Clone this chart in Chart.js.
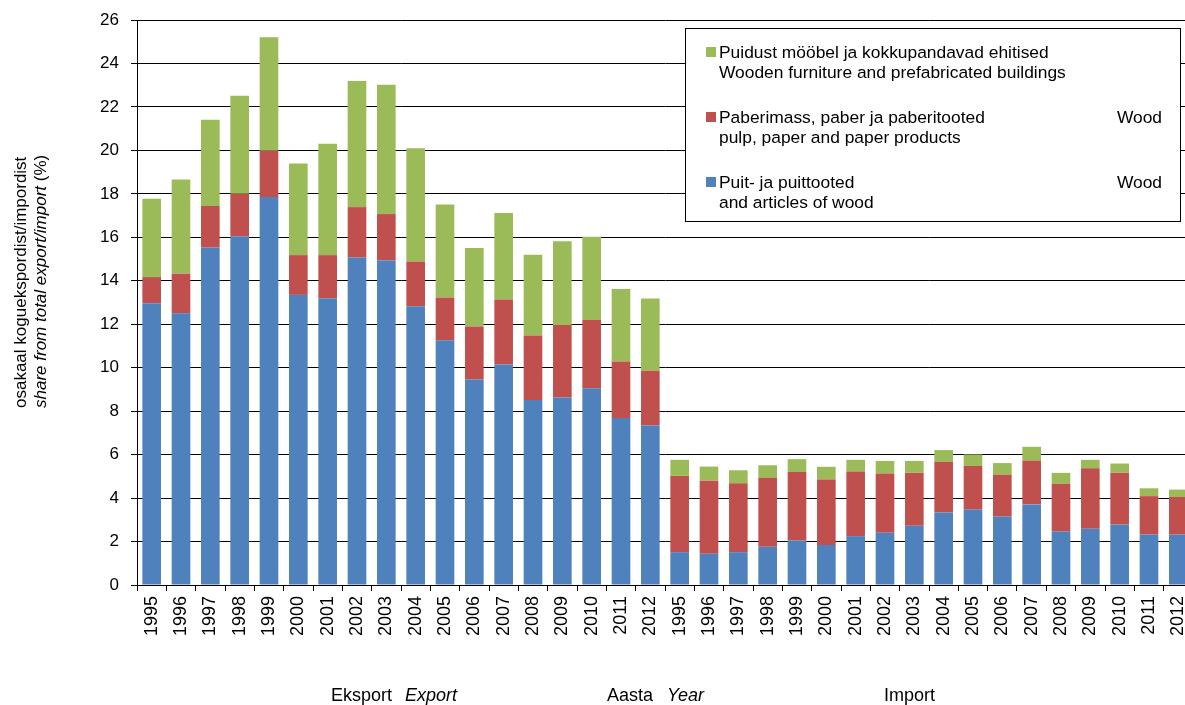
<!DOCTYPE html>
<html>
<head>
<meta charset="utf-8">
<script src="https://cdn.jsdelivr.net/npm/chart.js@4.4.0/dist/chart.umd.min.js"></script>
<style>
  html, body { margin: 0; padding: 0; background: #fff; overflow: hidden; }
  #wrap { position: relative; width: 1193px; height: 705px; }
</style>
</head>
<body>
<div id="wrap"><canvas id="c" width="1193" height="705"></canvas></div>
<script>
const categories = [
  '1995','1996','1997','1998','1999','2000','2001','2002','2003','2004','2005','2006','2007','2008','2009','2010','2011','2012',
  '1995','1996','1997','1998','1999','2000','2001','2002','2003','2004','2005','2006','2007','2008','2009','2010','2011','2012'
];
// Puit- ja puittooted / Wood and articles of wood
const woodArticles = [
  12.97, 12.50, 15.53, 16.05, 17.85, 13.35, 13.20, 15.07, 14.95, 12.83, 11.26, 9.46, 10.15, 8.51, 8.63, 9.05, 7.68, 7.34,
  1.51, 1.44, 1.51, 1.76, 2.05, 1.84, 2.25, 2.41, 2.73, 3.34, 3.47, 3.15, 3.71, 2.46, 2.59, 2.78, 2.32, 2.32
];
// Paberimass, paber ja paberitooted / Wood pulp, paper and paper products
const pulpPaper = [
  1.20, 1.83, 1.91, 1.95, 2.13, 1.83, 1.98, 2.32, 2.12, 2.05, 1.97, 2.43, 2.99, 2.97, 3.34, 3.15, 2.60, 2.52,
  3.51, 3.36, 3.17, 3.17, 3.15, 3.01, 2.97, 2.72, 2.44, 2.33, 2.01, 1.93, 2.02, 2.20, 2.78, 2.39, 1.77, 1.73
];
// Puidust mööbel ja kokkupandavad ehitised / Wooden furniture and prefabricated buildings
const furniture = [
  3.61, 4.33, 3.97, 4.51, 5.23, 4.22, 5.12, 5.80, 5.95, 5.22, 4.28, 3.62, 3.98, 3.72, 3.85, 3.83, 3.34, 3.32,
  0.74, 0.65, 0.60, 0.58, 0.59, 0.59, 0.54, 0.58, 0.54, 0.54, 0.53, 0.53, 0.63, 0.50, 0.39, 0.42, 0.36, 0.34
];
const yTicks = { min: 0, max: 26, step: 2 };

const BLUE = '#4F81BD', RED = '#C0504D', GREEN = '#9BBB59';
const FONT = '"Liberation Sans", Arial, sans-serif';

const textPlugin = {
  id: 'texts',
  afterDraw(chart) {
    const ctx = chart.ctx;
    ctx.save();
    ctx.fillStyle = '#000';
    ctx.textBaseline = 'alphabetic';
    // Y axis title line 1
    ctx.save();
    ctx.translate(26, 408);
    ctx.rotate(-Math.PI / 2);
    ctx.font = '17px ' + FONT;
    ctx.textAlign = 'left';
    ctx.fillText('osakaal koguekspordist/impordist', 0, 0);
    ctx.restore();
    // Y axis title line 2 (mixed italic)
    ctx.save();
    ctx.translate(46, 408);
    ctx.rotate(-Math.PI / 2);
    ctx.textAlign = 'left';
    const p1 = 'share from total export/import ';
    const p2 = '(%)';
    ctx.font = 'italic 17px ' + FONT;
    const w1 = ctx.measureText(p1).width;
    ctx.fillText(p1, 0, 0);
    ctx.font = '17px ' + FONT;
    ctx.fillText(p2, w1, 0);
    ctx.restore();

    // Bottom texts
    ctx.textAlign = 'left';
    ctx.font = '18px ' + FONT;
    ctx.fillText('Eksport', 331, 701);
    ctx.fillText('Aasta', 607, 701);
    ctx.fillText('Import', 884, 701);
    ctx.font = 'italic 18px ' + FONT;
    ctx.fillText('Export', 405, 701);
    ctx.fillText('Year', 667, 701);

    // Legend box
    ctx.fillStyle = '#fff';
    ctx.fillRect(685, 28, 496, 194);
    ctx.strokeStyle = '#000';
    ctx.lineWidth = 1;
    ctx.strokeRect(685.5, 28.5, 495, 193);
    const items = [
      { c: GREEN, l1: 'Puidust mööbel ja kokkupandavad ehitised', l2: 'Wooden furniture and prefabricated buildings', y: 58, w: false },
      { c: RED, l1: 'Paberimass, paber ja paberitooted', l2: 'pulp, paper and paper products', y: 123, w: true },
      { c: BLUE, l1: 'Puit- ja puittooted', l2: 'and articles of wood', y: 188, w: true }
    ];
    ctx.font = '17.4px ' + FONT;
    for (const it of items) {
      ctx.fillStyle = it.c;
      ctx.fillRect(706, it.y - 11, 10, 10);
      ctx.fillStyle = '#000';
      ctx.textAlign = 'left';
      ctx.fillText(it.l1, 719, it.y);
      ctx.fillText(it.l2, 719, it.y + 20);
      if (it.w) {
        ctx.textAlign = 'right';
        ctx.fillText('Wood', 1162, it.y);
      }
    }
    ctx.restore();
  }
};

new Chart(document.getElementById('c'), {
  type: 'bar',
  data: {
    labels: categories,
    datasets: [
      { label: 'Puit- ja puittooted', data: woodArticles, backgroundColor: BLUE },
      { label: 'Paberimass, paber ja paberitooted', data: pulpPaper, backgroundColor: RED },
      { label: 'Puidust mööbel ja kokkupandavad ehitised', data: furniture, backgroundColor: GREEN }
    ]
  },
  options: {
    responsive: false,
    animation: false,
    events: [],
    layout: { padding: { top: 20, right: 0, bottom: 0, left: 0 } },
    datasets: { bar: { barPercentage: 0.635, categoryPercentage: 1.0, borderWidth: 0 } },
    plugins: { legend: { display: false }, tooltip: { enabled: false }, title: { display: false } },
    scales: {
      x: {
        stacked: true,
        offset: true,
        grid: { offset: true, drawOnChartArea: false, drawTicks: true, tickLength: 6, color: '#000', tickColor: '#000' },
        border: { color: '#000', width: 1 },
        ticks: { autoSkip: false, minRotation: 90, maxRotation: 90, padding: 5, color: '#000', font: { family: FONT, size: 18 } },
        afterFit(s) { s.height = 120; s.paddingLeft = 0; s.paddingRight = 0; }
      },
      y: {
        stacked: true,
        min: yTicks.min,
        max: yTicks.max,
        ticks: { stepSize: yTicks.step, padding: 12, color: '#000', font: { family: FONT, size: 17 } },
        grid: { color: '#000', lineWidth: 1, tickLength: 6, tickColor: '#000', drawTicks: true },
        border: { color: '#000', width: 1 },
        afterFit(s) { s.width = 137; s.paddingTop = 0; s.paddingBottom = 0; }
      }
    }
  },
  plugins: [textPlugin]
});
</script>
</body>
</html>
